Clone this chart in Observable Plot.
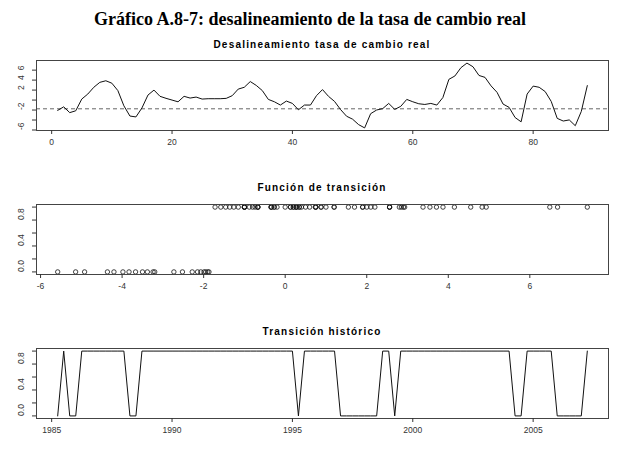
<!DOCTYPE html>
<html>
<head>
<meta charset="utf-8">
<script src="https://cdn.jsdelivr.net/npm/d3@7"></script>
<script src="https://cdn.jsdelivr.net/npm/@observablehq/plot@0.6"></script>
<style>
  body { margin: 0; background: #fff; }
  #c { position: relative; width: 642px; height: 472px; background: #fff; overflow: hidden; }
  .t { position: absolute; width: 642px; text-align: center; white-space: nowrap; color: #000; }
  #title { top: 7px; left: -11px; font-family: "Liberation Serif", "Times New Roman", serif; font-weight: bold; font-size: 18px; line-height: 24px; }
  .sub { left: 1px; font-family: "Liberation Sans", Arial, sans-serif; font-weight: bold; font-size: 10px; letter-spacing: 1.2px; line-height: 12px; }
</style>
</head>
<body>
<div id="c">
  <div id="title" class="t">Gráfico A.8-7: desalineamiento de la tasa de cambio real</div>
  <div class="t sub" style="top:39px">Desalineamiento tasa de cambio real</div>
  <div class="t sub" style="top:182px">Función de transición</div>
  <div class="t sub" style="top:326px">Transición histórico</div>
</div>
<script>
// Quarterly series, 1985 Q2 .. 2007 Q2 (89 observations)
const desalineamiento = [
  -2.07, -1.36, -2.52, -2.15, 0.2, 1.2, 2.56, 3.55, 3.87, 3.38,
  1.9, -1.15, -3.2, -3.38, -1.58, 1.0, 2.0, 0.75, 0.35, 0.0,
  -0.35, 0.75, 0.4, 0.6, 0.2, 0.27, 0.27, 0.27, 0.34, 0.88,
  2.2, 2.56, 3.71, 2.93, 1.9, 0.13, -0.34, -1.0, -0.2, -0.67,
  -1.95, -1.0, -1.0, 0.88, 2.1, 0.74, -0.27, -1.9, -3.24, -3.83,
  -4.92, -5.58, -2.73, -1.99, -1.72, -0.67, -1.87, -1.26, 0.13, -0.34,
  -0.74, -0.88, -0.67, -1.0, 0.5, 4.15, 4.83, 6.49, 7.41, 6.68,
  4.93, 4.55, 2.85, 1.55, -0.8, -1.46, -3.5, -4.36, 1.2, 2.8,
  2.56, 1.7, -0.27, -3.67, -4.2, -3.98, -5.14, -2.28, 2.9
];
const transicion = [
  0, 1, 0, 0, 1, 1, 1, 1, 1, 1,
  1, 1, 0, 0, 1, 1, 1, 1, 1, 1,
  1, 1, 1, 1, 1, 1, 1, 1, 1, 1,
  1, 1, 1, 1, 1, 1, 1, 1, 1, 1,
  0, 1, 1, 1, 1, 1, 1, 0, 0, 0,
  0, 0, 0, 0, 1, 1, 0, 1, 1, 1,
  1, 1, 1, 1, 1, 1, 1, 1, 1, 1,
  1, 1, 1, 1, 1, 1, 0, 0, 1, 1,
  1, 1, 1, 0, 0, 0, 0, 0, 1
];
const umbral = [-1.75];
const startYear = 1985;           // index i  -> year 1985 + i/4
const ticksTop = [0, 20, 40, 60, 80];
const ticksTopY = [-6, -4, -2, 0, 2, 4, 6];
const labelsTopY = [-6, -2, 2, 4, 6];
const ticksMidX = [-6, -4, -2, 0, 2, 4, 6];
const ticksProbY = [0, 0.2, 0.4, 0.6, 0.8, 1.0];
const labelsProbY = ["0.0", "0.4", "0.8"];
const ticksYears = [1985, 1990, 1995, 2000, 2005];

const rows = desalineamiento.map((v, k) => ({
  i: k + 1, t: startYear + (k + 1) / 4, v, g: transicion[k]
}));

const pad = ([a, b]) => [a - (b - a) * 0.04, b + (b - a) * 0.04];
const font = "'Liberation Sans', Arial, sans-serif";

function panel(frameTop, xDomain, yDomain, xTicks, yTicks, yLabels, marks) {
  const svg = Plot.plot({
    width: 642, height: 104,
    marginTop: 10, marginBottom: 24, marginLeft: 36, marginRight: 34,
    x: { domain: xDomain }, y: { domain: yDomain },
    style: { background: "transparent", fontFamily: font, fontSize: "8.5px", color: "#333" },
    marks: [
      ...marks,
      Plot.frame({ stroke: "#444", strokeWidth: 1 }),
      Plot.axisX({ ticks: xTicks, tickSize: 4, tickPadding: 4, tickFormat: d => String(d), label: null, fontSize: 8.5 }),
      Plot.axisY({ ticks: yTicks, tickSize: 4, tickFormat: () => "", label: null }),
      Plot.text(yLabels, { y: d => +d, text: d => String(d), frameAnchor: "left", dx: -15, rotate: -90, fontSize: 8.5, fill: "#333" })
    ]
  });
  svg.style.position = "absolute";
  svg.style.left = "0px";
  svg.style.top = (frameTop - 10) + "px";
  document.getElementById("c").appendChild(svg);
}

// Panel 1: misalignment over index
panel(60,
  pad(d3.extent(rows, d => d.i)),
  pad(d3.extent(rows, d => d.v)),
  ticksTop, ticksTopY, labelsTopY,
  [
    Plot.ruleY(umbral, { stroke: "#666", strokeWidth: 1, strokeDasharray: "4,3" }),
    Plot.line(rows, { x: "i", y: "v", stroke: "#111", strokeWidth: 1 })
  ]);

// Panel 2: transition function
panel(204,
  pad(d3.extent(rows, d => d.v)),
  pad([0, 1]),
  ticksMidX, ticksProbY, labelsProbY,
  [
    Plot.dot(rows, { x: "v", y: "g", r: 2.2, stroke: "#111", strokeWidth: 0.8, fill: "none" })
  ]);

// Panel 3: historic transition
panel(348,
  pad(d3.extent(rows, d => d.t)),
  pad([0, 1]),
  ticksYears, ticksProbY, labelsProbY,
  [
    Plot.line(rows, { x: "t", y: "g", stroke: "#111", strokeWidth: 1 })
  ]);
</script>
</body>
</html>
